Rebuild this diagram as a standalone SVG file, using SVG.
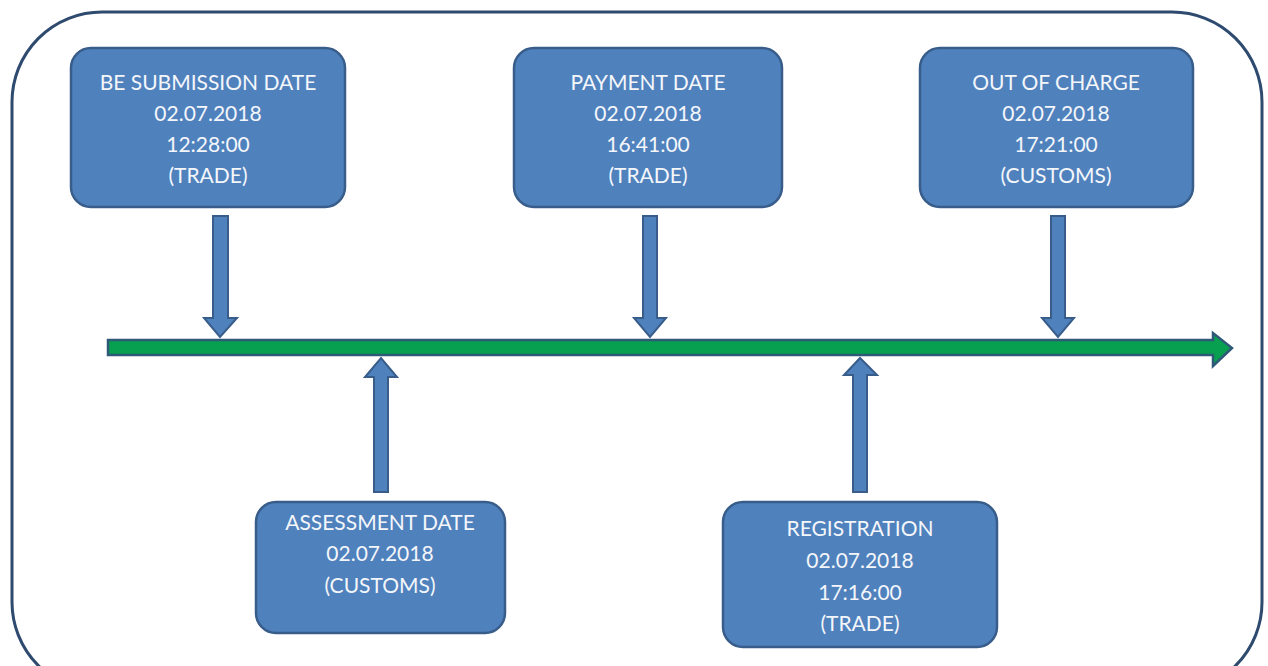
<svg xmlns="http://www.w3.org/2000/svg" width="1268" height="666" viewBox="0 0 1268 666">
<style>
.box{fill:#4F81BD;stroke:#385D8A;stroke-width:2.5}
.arr{fill:#4F81BD;stroke:#385D8A;stroke-width:2}
.t{font-family:Lato,"Liberation Sans",sans-serif;font-size:21px;fill:#F4F6FA;text-anchor:middle}
</style>
<rect width="1268" height="666" fill="#FFFFFF"/>
<rect x="12" y="12" width="1250" height="680" rx="90" ry="90" fill="none" stroke="#2E4A6E" stroke-width="3"/>
<g id="connectors">
<path d="M108,340 H1213 V333 L1232,348 L1213,366 V355 H108 Z" fill="#07A050" stroke="#2E5A78" stroke-width="2.5"/>
<path class="arr" d="M213,216 H228 V318 H237 L220,337 L204,318 H213 Z"/>
<path class="arr" d="M643,216 H657 V318 H666 L650,337 L634,318 H643 Z"/>
<path class="arr" d="M1051,216 H1065 V318 H1074 L1058,337 L1042,318 H1051 Z"/>
<path class="arr" d="M374,492 H388 V377 H397 L381,358 L365,377 H374 Z"/>
<path class="arr" d="M853,492 H867 V375 H877 L860,358 L844,375 H853 Z"/>
</g>
<g id="node-be-submission">
<rect class="box" x="71" y="48" width="274" height="159" rx="20"/>
<text class="t" x="208" y="90">BE SUBMISSION DATE</text>
<text class="t" x="208" y="121">02.07.2018</text>
<text class="t" x="208" y="152">12:28:00</text>
<text class="t" x="208" y="183">(TRADE)</text>
</g>
<g id="node-payment">
<rect class="box" x="514" y="48" width="268" height="159" rx="20"/>
<text class="t" x="648" y="90">PAYMENT DATE</text>
<text class="t" x="648" y="121">02.07.2018</text>
<text class="t" x="648" y="152">16:41:00</text>
<text class="t" x="648" y="183">(TRADE)</text>
</g>
<g id="node-out-of-charge">
<rect class="box" x="920" y="48" width="273" height="159" rx="20"/>
<text class="t" x="1056" y="90">OUT OF CHARGE</text>
<text class="t" x="1056" y="121">02.07.2018</text>
<text class="t" x="1056" y="152">17:21:00</text>
<text class="t" x="1056" y="183">(CUSTOMS)</text>
</g>
<g id="node-assessment">
<rect class="box" x="256" y="502" width="249" height="131" rx="20"/>
<text class="t" x="380" y="530">ASSESSMENT DATE</text>
<text class="t" x="380" y="561">02.07.2018</text>
<text class="t" x="380" y="593">(CUSTOMS)</text>
</g>
<g id="node-registration">
<rect class="box" x="723" y="502" width="274" height="145" rx="20"/>
<text class="t" x="860" y="536">REGISTRATION</text>
<text class="t" x="860" y="568">02.07.2018</text>
<text class="t" x="860" y="600">17:16:00</text>
<text class="t" x="860" y="631">(TRADE)</text>
</g>
</svg>
